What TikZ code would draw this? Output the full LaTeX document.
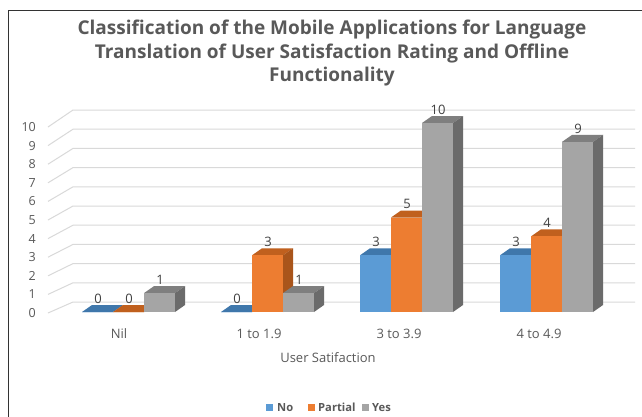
\documentclass[tikz,border=0pt]{standalone}
\usepackage{fontspec}
\setmainfont{Open Sans}
\definecolor{txtgray}{HTML}{595959}
\definecolor{lblgray}{HTML}{404040}
\definecolor{gridgray}{HTML}{D9D9D9}
\definecolor{noblue}{HTML}{5B9BD5}
\definecolor{notop}{HTML}{3F77AB}
\definecolor{noside}{HTML}{3A6B98}
\definecolor{partorange}{HTML}{ED7D31}
\definecolor{parttop}{HTML}{C0601E}
\definecolor{partside}{HTML}{A9551B}
\definecolor{yesgray}{HTML}{A5A5A5}
\definecolor{yestop}{HTML}{7F7F7F}
\definecolor{yesside}{HTML}{6B6B6B}

% one 3D column: x, value, front, top, side, name
\newcommand{\drawcolumn}[6]{%
  \pgfmathsetmacro\ytop{312-18.9*#2}
  \fill[#4] (#1,\ytop) -- ++(10,-7) -- ++(31,0) -- ++(-10,7) -- cycle; % top face
  \fill[#5] (#1+31,\ytop) -- ++(10,-7) -- (#1+41,305) -- (#1+31,312) -- cycle; % side face
  \fill[#3] (#1,\ytop) rectangle (#1+31,312); % front face
  \node[vlab] (#6) at (#1+16,\ytop-13.5) {#2};
}

\begin{document}
\begin{tikzpicture}[x=1pt, y=-1pt,
  grid/.style={gridgray, line width=1pt},
  ylab/.style={anchor=east, text=txtgray, font=\fontsize{12.5}{15}\selectfont, inner sep=0pt},
  vlab/.style={text=lblgray, font=\fontsize{13}{15}\selectfont, inner sep=0pt},
  catlab/.style={text=txtgray, font=\fontsize{13}{15}\selectfont, inner sep=0pt},
  leglab/.style={anchor=west, text=txtgray, font=\fontsize{11.2}{13}\selectfont\bfseries, inner sep=0pt}]
  \clip (0,0) rectangle (642,416);
  \fill[white] (0,0) rectangle (642,416);
  \draw[black!80, line width=1pt] (8.5,430) -- (8.5,10.5) -- (660,10.5); % chart frame

  % Title
  \node[text=txtgray, align=center, font=\fontsize{19}{23.5}\selectfont\bfseries] (title) at (332,53.5)
    {Classification of the Mobile Applications for Language\\Translation of User Satisfaction Rating and Offline\\Functionality};

  % Gridlines and value axis
  \foreach \v in {0,...,10} {
    \draw[grid] (48,{313-18.6*\v}) -- (73,{302-19.2*\v}) -- (635,{302-19.2*\v});
    \node[ylab] (y\v) at (36,{313-18.6*\v}) {\v};
  }

  % Columns: No, Partial, Yes
  \foreach \x/\n/\p/\y [count=\i] in {82/0/0/1, 221/0/3/1, 360/3/5/10, 500/3/4/9} {
    \drawcolumn{\x}{\n}{noblue}{notop}{noside}{no\i}
    \drawcolumn{\x+31}{\p}{partorange}{parttop}{partside}{part\i}
    \drawcolumn{\x+62}{\y}{yesgray}{yestop}{yesside}{yes\i}
  }

  % Category axis
  \node[catlab] (cat1) at (119,334) {Nil};
  \node[catlab] (cat2) at (259,334) {1 to 1.9};
  \node[catlab] (cat3) at (399,334) {3 to 3.9};
  \node[catlab] (cat4) at (539,334) {4 to 4.9};
  \node[catlab] (xtitle) at (328,358) {User Satifaction};

  % Legend
  \fill[noblue] (266,404) rectangle (273,411);
  \node[leglab] (legno) at (277,407.5) {No};
  \fill[partorange] (308,404) rectangle (315,411);
  \node[leglab] (legpart) at (318,407.5) {Partial};
  \fill[yesgray] (362,404) rectangle (369,411);
  \node[leglab] (legyes) at (372,407.5) {Yes};
\end{tikzpicture}
\end{document}
